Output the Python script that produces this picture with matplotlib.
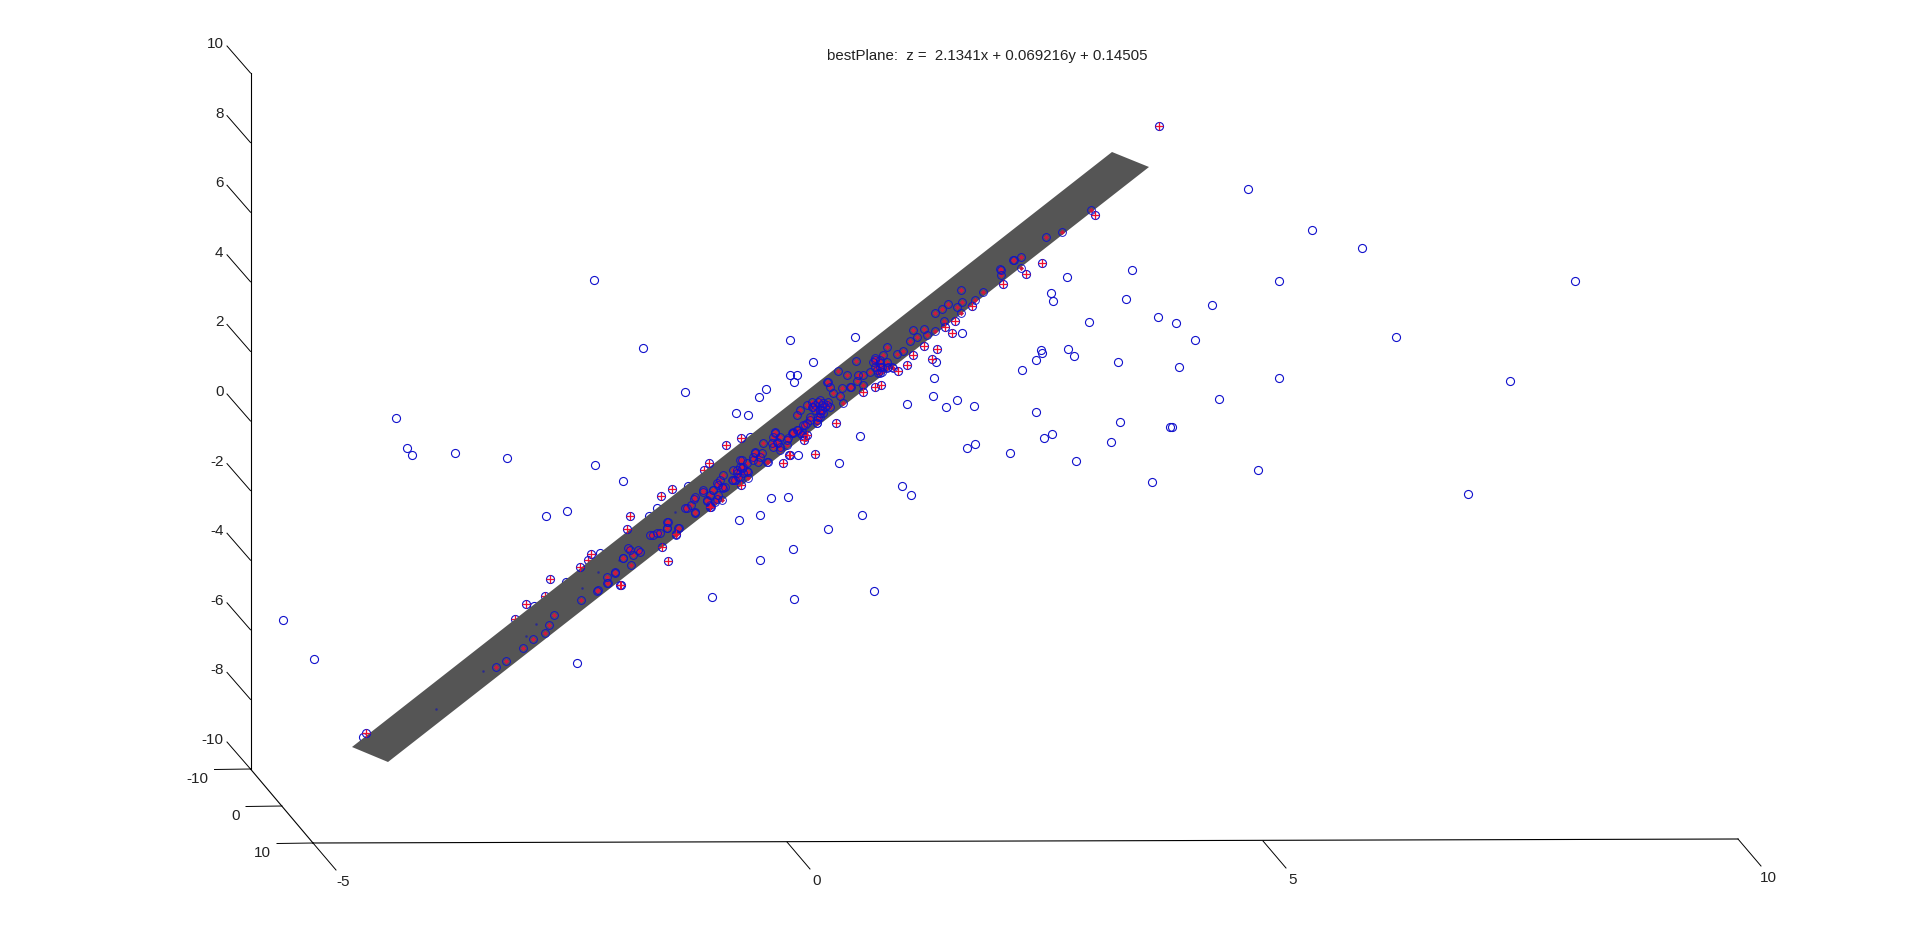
import matplotlib
matplotlib.use("Agg")
import matplotlib.pyplot as plt
from matplotlib.patches import Polygon

TITLE = "bestPlane:  z =  2.1341x + 0.069216y + 0.14505"

# open circles, not on the plane
outlier_x = [594.3, 643.3, 685.3, 396.3, 407.3, 412.3, 455.3, 507, 595.3, 623.3, 567.3, 546.3, 283.3, 314.3, 577.3,
             712.3, 760.3, 739.3, 760.3, 771.3, 788, 736.3, 748.3, 759.3, 766.3, 790.3, 790.3, 855.3, 813.3, 797.3,
             794.3, 860.3, 839.3, 798.3, 828.3, 862.3, 793.3, 794.3, 874.3, 902.3, 911.3, 907.3, 933.3, 934.3, 936.3,
             962.3, 946.3, 957.3, 974.3, 967.3, 975.3, 1010.3, 1022.3, 1036.3, 1041.3, 1042.3, 1068.3, 1074.3, 1089.3,
             1118.3, 1036.3, 1044.3, 1052.3, 1076.3, 1111.3, 1120.3, 1152.3, 1158.3, 1176.3, 1195.3, 1179.3, 1170, 1172,
             1218.5, 1248.3, 1312.3, 1362.3, 1132.3, 1279.3, 1575.3, 1126.3, 1212.3, 1396.3, 1279.3, 1258.3, 1468.3,
             1510.3, 1067.3, 1051.3, 1053.3]
outlier_y = [280.3, 348.3, 392.3, 418.3, 448.3, 455.3, 453.3, 458.3, 465.3, 481.3, 511.3, 516.3, 620.3, 659.3, 663.3,
             597.3, 560.3, 520.3, 515.3, 498.3, 497.3, 413.3, 415.3, 397.3, 389.3, 340.3, 375.3, 337.3, 362.3, 375.3,
             382.3, 436.3, 463.3, 455.3, 529.3, 515.3, 549.3, 599.3, 591.3, 486.3, 495.3, 404.3, 396.3, 378.3, 361.5,
             333.3, 407.3, 400.3, 406.3, 448.3, 444.3, 453.3, 370.3, 360.3, 350.3, 353, 349.3, 356.3, 322.3,
             362.3, 412.3, 438.3, 434.3, 461.3, 442.3, 422.3, 482.3, 317.3, 323.3, 340.3, 367.3, 427.3, 427.3,
             399.3, 189.3, 230.3, 248.3, 270.3, 281.3, 281.3, 299.3, 305.3, 337.3, 378.3, 470.3, 494.3,
             381.3, 277.3, 293.3, 301.3]

# circle + red cross, clear of the plane
crossed_x = [1159.3, 1094.7, 1042.3, 1026.3, 1003.3, 972.3, 955.3, 945.3, 952.3, 937.3, 932.3, 924.3, 913.3, 907.3,
             898.3, 881, 875, 863.3, 836.3, 815.3, 804.3, 806.7, 789.3, 790.3, 783.3, 741.3, 726.3, 709.3, 672.3,
             661.3, 630.3, 627.3, 662.3, 668.3, 741.3, 710.3, 676, 591.3, 580, 550.3, 526.3, 620.3, 621, 366]
crossed_y = [126.3, 214.7, 263.3, 274.3, 284.3, 306.3, 321.3, 327.3, 333.3, 349.3, 359, 346.3, 354.7, 365.3,
             371.3, 385.3, 387.3, 392.3, 423.3, 454.3, 440.3, 435.3, 455.3, 454.8, 463.3, 438.3, 445.3, 463.3, 489.3,
             496.3, 516.3, 529, 547.3, 561.3, 485.3, 507.3, 534.3, 554.3, 566.7, 579.3, 604.3, 585.3, 585.3, 733]

# half hidden behind the top edge of the plane
hidden_x = [750, 649.3, 656.7, 600, 565.7, 534.3, 688.3, 363.3]
hidden_y = [436.7, 516, 508.3, 553.3, 581.7, 606, 485.7, 736.7]
hidden_cross_x = [703.7, 588.3, 545.3, 515.3]
hidden_cross_y = [470.3, 560.2, 595.5, 619.3]

# points sitting in the plane
inlier_x = [495.7, 505.7, 522.7, 533, 544.7, 549, 554, 580.7, 596.7, 606.7, 606.7, 615, 630.7, 623.3, 632.7, 638.3,
            628.3, 653.3, 660, 667.3, 667.3, 679.3, 676, 685, 695, 694, 690.7, 703.3, 713.3, 721.7, 707.3, 716.7,
            711, 716.7, 723.3, 733.3, 741.7, 735, 743.3, 740, 746.7, 738.3, 753.3, 760, 763.3, 766.7, 775, 780,
            776.7, 786.7, 771.7, 755, 736.7, 796.7, 796.7, 805, 806.7, 816.7, 815, 823.3, 820, 828.3, 830, 833.3,
            826.7, 800, 810, 816.7, 818.3, 825, 813.3, 828.3, 841.7, 850.7, 840, 843.3, 838.3, 846.7, 856.7, 856,
            863.3, 870, 863.3, 875, 880, 876.7, 886.7, 891.7, 881.7, 896.7, 886.7, 883.3, 903.3, 910, 916.7, 926.7,
            913.3, 924.3, 935, 943.5, 935, 941.7, 948.3, 956.7, 961.7, 960.7, 961.3, 975, 983, 1000, 1001.3, 1013,
            1020.7, 1091, 1062.3, 1046.3, 1014.3, 1020.7, 1001.3, 858.3, 850, 880, 878.3, 888, 803.3, 821.7, 820,
            # dense clumps, second pass
            740, 746.7, 741.7, 748.3, 731.7, 740, 748.3, 725, 718.3, 710, 718.3, 721.7, 695, 686.7, 695, 710, 715,
            656.7, 650, 668.3, 678.3, 666.7, 630, 640, 623.3, 615, 608.3, 598.3, 768.3, 755, 773.3, 778.3, 786.7,
            793.3, 801.7, 806.7, 816.7, 811.7, 821.7, 820, 830, 811.7, 820, 826.7, 815, 823.3, 818.3, 810, 803.3,
            798.3, 791.7, 800, 805, 875, 880, 875, 881.7, 886.7, 893.3, 880, 873.3, 743.3, 736.7, 733.3, 720, 713.3,
            723.3, 706.7, 703.3, 753.3, 761.7, 758.3, 775, 780, 773.3, 780, 788.3, 793.3]
inlier_y = [666.7, 660.7, 648, 639.3, 633.3, 625.3, 615.3, 600, 590.7, 583.3, 576.7, 572.3, 565, 558.3, 555, 550,
            548.3, 535, 533.3, 528.3, 521.7, 528.3, 535, 508.3, 512.3, 499.3, 505, 490, 490, 486.7, 500.7, 499.3,
            507.3, 483.3, 475, 470, 460, 480, 473.3, 467.3, 470.7, 476.7, 460, 456.7, 443.3, 461.7, 433.3, 450,
            441.7, 440, 443.3, 453.3, 470, 430, 415, 425, 405, 420, 405, 403.3, 410, 401.7, 386.7, 393.3,
            381.7, 410, 420, 423.3, 401.7, 406.7, 406.7, 381.7, 388.3, 387.3, 396, 403.3, 371, 375, 380.7, 361,
            375, 372.3, 385, 360, 363.3, 370, 361.7, 366.7, 371.7, 354.3, 347.3, 355, 350.7, 340.7, 336.7, 335,
            330, 329, 331.3, 321, 313.3, 309, 304.3, 306.7, 301.7, 312.5, 290.3, 300, 292.3, 269.3, 275.3, 260,
            267.5, 210.3, 232.3, 237.3, 260.3, 256.7, 270, 375, 386.7, 366.7, 373.3, 366.7, 433.3, 410, 416.7,
            460, 463.3, 468.3, 471.7, 480, 476.7, 478.3, 486.7, 485, 495, 495, 500, 496.7, 508.3, 513.3, 505, 501.7,
            533.3, 535, 521.7, 528.3, 528.3, 550, 551.7, 558.3, 573.3, 583.3, 590, 461.7, 451.7, 436.7, 443.3, 445,
            433.3, 435, 423.3, 423.3, 406.7, 405, 413.3, 406.7, 401.7, 400, 405, 410, 413.3, 416.7, 416.7, 425,
            430, 433.3, 433.3, 436.7, 358.3, 360, 366.7, 366.7, 368.3, 368.3, 373.3, 361.7, 466.7, 473.3, 480, 480, 490,
            488.3, 500, 491.7, 456.7, 453.3, 461.7, 431.7, 436.7, 446.7, 446.7, 438.3, 431.7]

# only a speck of the marker pokes through the plane
speck_x = [436.3, 482.7, 526, 536, 582, 597.7, 618.7, 675]
speck_y = [709, 671.3, 636, 624, 588.3, 572.3, 560, 511.7]

plane_x = [352, 388, 1149, 1112]
plane_y = [747, 762, 167, 152]

# axis box
z_axis_x = [250.5, 250.5]
z_axis_y = [73, 769]
y_axis_x = [250.5, 313]
y_axis_y = [769, 843]
x_axis_x = [313, 1738]
x_axis_y = [843, 839]

z_tick_labels = ["10", "8", "6", "4", "2", "0", "-2", "-4", "-6", "-8", "-10"]
z_tick_y = [73, 142.6, 212.2, 281.8, 351.4, 421, 490.6, 560.2, 629.8, 699.4, 769]
x_tick_labels = ["-5", "0", "5", "10"]
x_tick_x = [313, 787, 1263, 1738]
x_tick_y = [843, 842, 841, 839]
y_tick_labels = ["-10", "0", "10"]
y_tick_x = [250.5, 282, 313]
y_tick_y = [769, 806, 843]

BLUE = "#1010cc"
RED = "#f01030"
GREY = "#555555"
FONT = "Liberation Sans"

fig = plt.figure(figsize=(19.2, 9.47), dpi=100)
ax = fig.add_axes([0, 0, 1, 1])
ax.set_xlim(0, 1920)
ax.set_ylim(947, 0)
ax.axis("off")

circle = dict(linestyle="none", marker="o", markersize=5.8, markerfacecolor="none",
              markeredgecolor=BLUE, markeredgewidth=0.8)
cross = dict(linestyle="none", marker="+", markersize=6.4, markeredgecolor=RED, markeredgewidth=0.9)

# stuff behind the plane first
ax.plot(hidden_x, hidden_y, zorder=1, **circle)
ax.plot(hidden_cross_x, hidden_cross_y, zorder=1, **circle)
ax.plot(hidden_cross_x, hidden_cross_y, zorder=1, **cross)

ax.add_patch(Polygon(list(zip(plane_x, plane_y)), closed=True, facecolor=GREY, edgecolor="none", zorder=2))

ax.plot(speck_x, speck_y, linestyle="none", marker="o", markersize=1.8, color="#2a2a90", markeredgewidth=0, zorder=3)

# inliers: red blob with the blue ring drawn over it
ax.plot(inlier_x, inlier_y, linestyle="none", marker="D", markersize=2.6, color="#d0183f",
        markeredgewidth=0, zorder=3)
ax.plot(inlier_x, inlier_y, linestyle="none", marker="o", markersize=5.6, markerfacecolor="none",
        markeredgecolor=BLUE, markeredgewidth=0.65, zorder=4)

ax.plot(outlier_x, outlier_y, zorder=3, **circle)
ax.plot(crossed_x, crossed_y, zorder=4, **circle)
ax.plot(crossed_x, crossed_y, zorder=5, **cross)

# axes box and ticks
for xs, ys in [(z_axis_x, z_axis_y), (y_axis_x, y_axis_y), (x_axis_x, x_axis_y)]:
    ax.plot(xs, ys, color="black", lw=0.8, zorder=6)

for lab, ty in zip(z_tick_labels, z_tick_y):
    ax.plot([250.5, 227], [ty, ty - 27], color="black", lw=0.7, zorder=6)
    ax.text(223.5, ty - 29, lab, ha="right", va="center", fontsize=11, family=FONT, color="#222222")

for lab, tx, ty in zip(x_tick_labels, x_tick_x, x_tick_y):
    ax.plot([tx, tx + 23], [ty, ty + 27], color="black", lw=0.7, zorder=6)
    ax.text(tx + 30, ty + 39, lab, ha="center", va="center", fontsize=11, family=FONT, color="#222222")

for lab, tx, ty in zip(y_tick_labels, y_tick_x, y_tick_y):
    ax.plot([tx, tx - 36], [ty, ty + 0.5], color="black", lw=0.7, zorder=6)
    ax.text(tx - 42.5, ty + 10, lab, ha="right", va="center", fontsize=11, family=FONT, color="#222222")

ax.text(987, 55.5, TITLE, ha="center", va="center", fontsize=10.8, family=FONT, color="#222222")

fig.savefig("out.png", dpi=100)
